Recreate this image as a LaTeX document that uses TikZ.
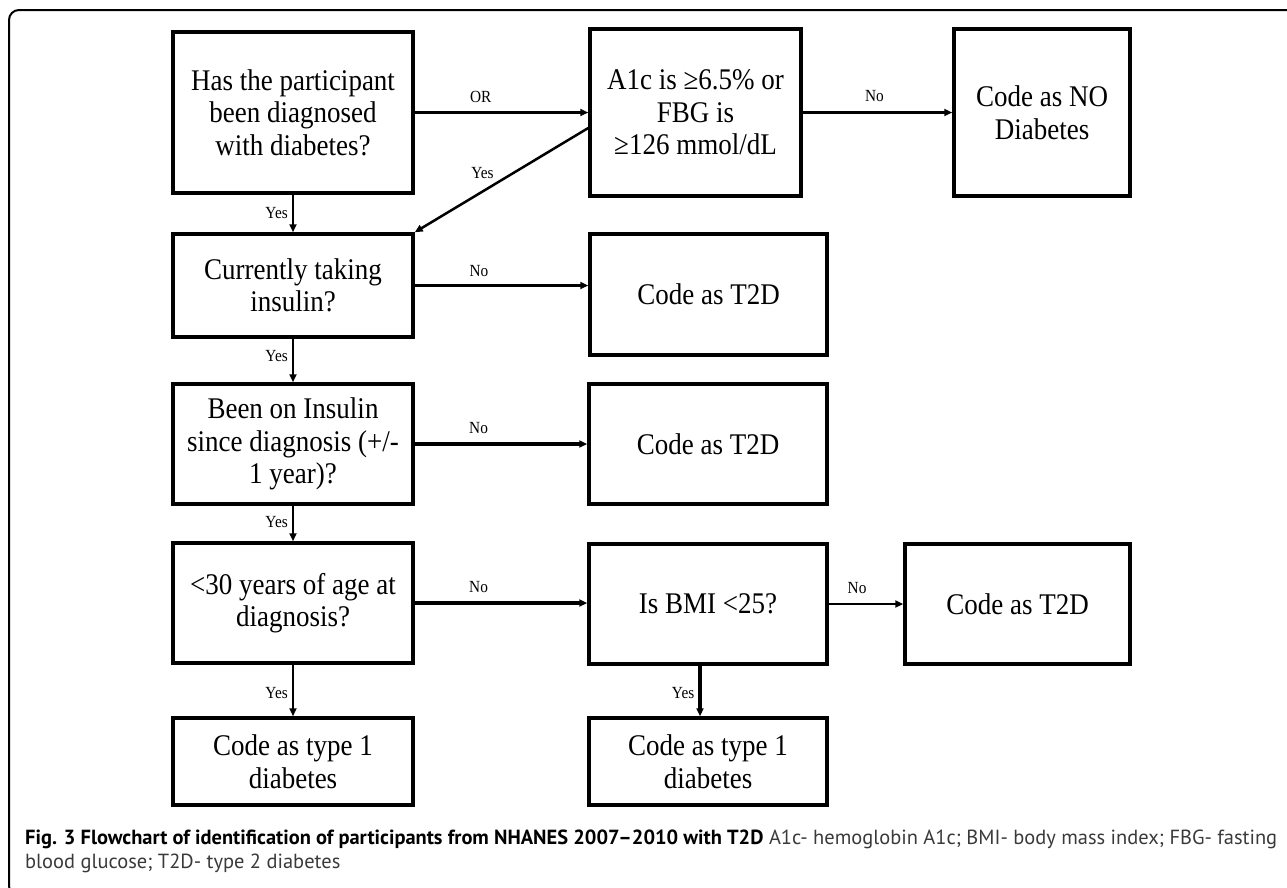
\documentclass[tikz,border=0pt]{standalone}
\usepackage{fontspec}
\usepackage{graphicx}
\setmainfont{Liberation Serif}
\newfontfamily\boxfont{Liberation Serif}[FakeStretch=0.9]
\newfontfamily\capfont{PT Sans}
\usetikzlibrary{arrows.meta,calc}
\definecolor{captext}{HTML}{3A3A3A}
\begin{document}
\begin{tikzpicture}[x=1pt,y=1pt,
  box/.style={draw, line width=3.5pt, align=center, inner sep=0pt, font=\boxfont\fontsize{30}{32.5}\selectfont},
  arr/.style={line width=2.5pt, -{Triangle[length=8pt,width=7pt]}},
  arrthick/.style={line width=3.5pt, -{Triangle[length=8pt,width=7pt]}},
  lbl/.style={font=\boxfont\fontsize{17}{19}\selectfont, inner sep=1pt},
  frame/.style={line width=2pt, rounded corners=10pt}]
\useasboundingbox (0,0) rectangle (1287,-887);
% outer frame
\coordinate (F1) at (1300,-10);
\coordinate (F2) at (9,-10);
\coordinate (F3) at (9,-896);
\coordinate (F4) at (40,-896);
\draw[frame] (F1) -- (F2) -- (F3) -- (F4);
% boxes
\node[box, minimum width=240pt, minimum height=161pt] (B1) at (293,-112.5) {Has the participant\\been diagnosed\\with diabetes?};
\node[box, minimum width=211pt, minimum height=167pt] (B2) at (695.5,-112.5) {A1c is ≥6.5\% or\\FBG is\\≥126 mmol/dL};
\node[box, minimum width=176pt, minimum height=167pt] (B3) at (1042,-112.5) {Code as NO\\Diabetes};
\node[box, minimum width=240pt, minimum height=103pt] (B4) at (293,-285.5) {Currently taking\\insulin?};
\node[box, minimum width=237pt, minimum height=121pt] (B5) at (708.5,-294.5) {Code as T2D};
\node[box, minimum width=240pt, minimum height=120pt] (B6) at (293,-444) {Been on Insulin\\since diagnosis (+/-\\1 year)?};
\node[box, minimum width=238pt, minimum height=120pt] (B7) at (708,-444) {Code as T2D};
\node[box, minimum width=240pt, minimum height=120pt] (B8) at (293,-603) {<30 years of age at\\diagnosis?};
\node[box, minimum width=238pt, minimum height=120pt] (B9) at (708,-604) {Is BMI <25?};
\node[box, minimum width=225pt, minimum height=120pt] (B10) at (1017.5,-604) {Code as T2D};
\node[box, minimum width=240pt, minimum height=87pt] (B11) at (293,-761.5) {Code as type 1\\diabetes};
\node[box, minimum width=238pt, minimum height=87pt] (B12) at (708,-761.5) {Code as type 1\\diabetes};
% connectors
\draw[arr] (B1.east) -- node[lbl, pos=0.38, yshift=16pt] {OR} (B2.west);
\draw[arr] (B2.east) -- node[lbl, pos=0.48, yshift=16pt] {No} (B3.west);
\draw[arr] ([yshift=-15.5pt]B2.west) -- node[lbl, pos=0.61, yshift=19pt] {Yes} (B4.north east);
\draw[arr] (B1.south) -- node[lbl, pos=0.5, anchor=east, xshift=-3pt] {Yes} (B4.north);
\draw[arrthick] (B4.east) -- node[lbl, pos=0.37, yshift=14pt] {No} (B4.east -| B5.west);
\draw[arr] (B4.south) -- node[lbl, pos=0.4, anchor=east, xshift=-3pt] {Yes} (B6.north);
\draw[arrthick] (B6.east) -- node[lbl, pos=0.37, yshift=16pt] {No} (B7.west);
\draw[arr] (B6.south) -- node[lbl, pos=0.46, anchor=east, xshift=-3pt] {Yes} (B8.north);
\draw[arrthick] (B8.east) -- node[lbl, pos=0.37, yshift=16pt] {No} (B8.east -| B9.west);
\draw[arr] (B9.west -| B9.east) -- node[lbl, pos=0.38, yshift=16pt] {No} (B10.west);
\draw[arr] (B8.south) -- node[lbl, pos=0.55, anchor=east, xshift=-3pt] {Yes} (B11.north);
\draw[arrthick] ([xshift=-8pt]B9.south) -- node[lbl, pos=0.54, anchor=east, xshift=-3pt] {Yes} ([xshift=-8pt]B12.north);
% caption
\node[anchor=north west, inner sep=0pt] (cap) at (25,-827) {\resizebox{1252pt}{!}{\capfont\begin{tabular}{@{}l@{}}\textbf{Fig. 3 Flowchart of identification of participants from NHANES 2007–2010 with T2D} \textcolor{captext}{A1c- hemoglobin A1c; BMI- body mass index; FBG- fasting}\\\textcolor{captext}{blood glucose; T2D- type 2 diabetes}\end{tabular}}};
\end{tikzpicture}
\end{document}
